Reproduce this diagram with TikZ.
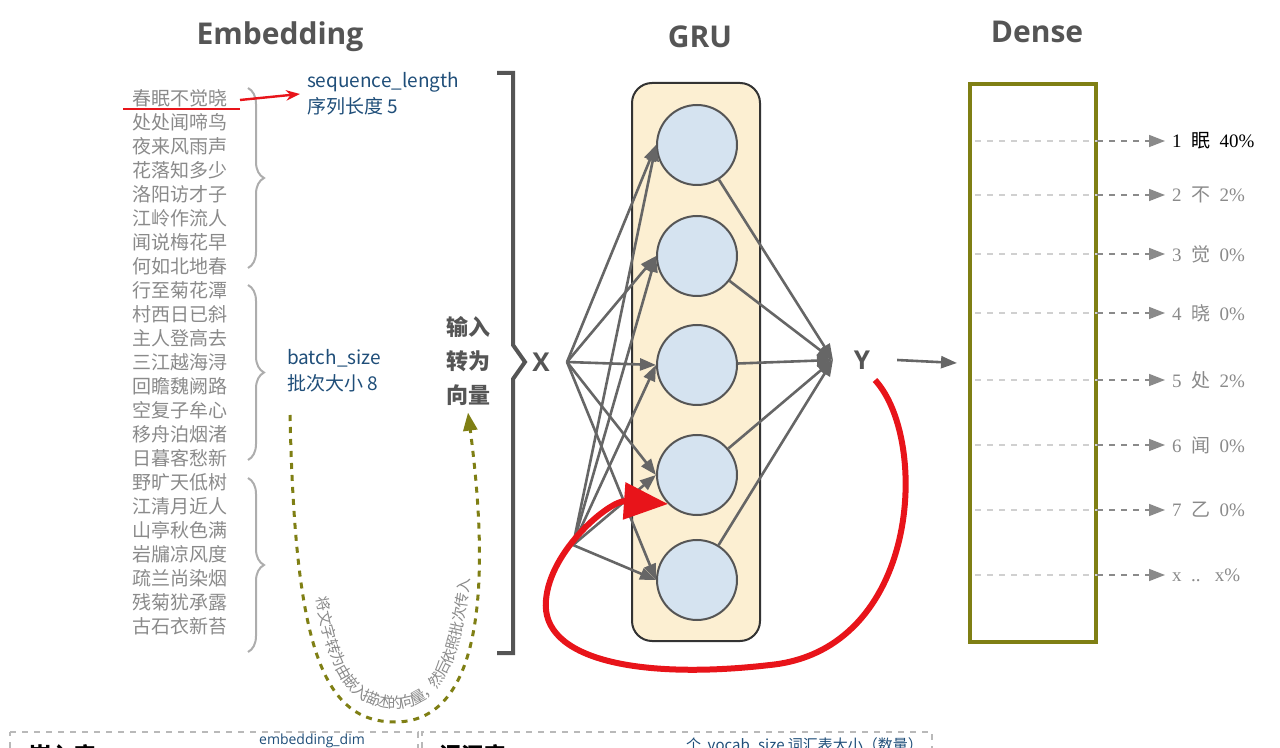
\documentclass[tikz,border=0pt]{standalone}
\usepackage{fontspec}
\setmainfont{Open Sans}
\newfontfamily\cjk{Noto Sans CJK SC}
\newfontfamily\serifcjk{Noto Sans CJK SC}
\newfontfamily\lserif{Liberation Serif}
\usetikzlibrary{decorations.pathreplacing,decorations.text,arrows.meta,calc}
\definecolor{tgray}{HTML}{555555}
\definecolor{pgray}{HTML}{8A8A8A}
\definecolor{dblue}{HTML}{1F4E79}
\definecolor{olive}{HTML}{7F7F14}
\definecolor{gold}{HTML}{FCEFD2}
\definecolor{cblue}{HTML}{D5E3F0}
\definecolor{dred}{HTML}{E8141A}
\begin{document}
\begin{tikzpicture}[x=0.5pt,y=-0.5pt,
  title/.style={font=\bfseries\fontsize{15}{15}\selectfont, text=tgray},
  poem/.style={font=\cjk\fontsize{9.5}{10}\selectfont, text=pgray},
  lab/.style={font=\cjk\fontsize{9.5}{13}\selectfont, text=dblue, align=left, anchor=west},
  cell/.style={circle, draw=tgray, line width=1pt, fill=cblue, minimum size=40pt, inner sep=0},
  conn/.style={draw=tgray!90, line width=1.3pt, -{Triangle[length=8pt,width=6pt]}},
  outarr/.style={draw=pgray, dashed, line width=0.8pt, -{Triangle[length=8pt,width=6pt]}},
  outlab/.style={font=\lserif\fontsize{9.5}{10}\selectfont, text=pgray, anchor=west},
  brace/.style={draw=pgray!70, line width=1pt, decorate, decoration={brace, amplitude=8pt}}]
\useasboundingbox (0,0) rectangle (1280,748);
\clip (0,0) rectangle (1280,748);
% titles
\node[title] (t1) at (280,37) {Embedding};
\node[title] (t2) at (700,37) {GRU};
\node[title] (t3) at (1037,32) {Dense};
% poem
\foreach \t [count=\i] in {春眠不觉晓,处处闻啼鸟,夜来风雨声,花落知多少,洛阳访才子,江岭作流人,闻说梅花早,何如北地春,行至菊花潭,村西日已斜,主人登高去,三江越海浔,回瞻魏阙路,空复子牟心,移舟泊烟渚,日暮客愁新,野旷天低树,江清月近人,山亭秋色满,岩牖凉风度,疏兰尚染烟,残菊犹承露,古石衣新苔}
  \node[poem] (p\i) at (180,{74+\i*24}) {\t};
\draw[brace] (248,88) -- (248,268);
\draw[brace] (248,285) -- (248,460);
\draw[brace] (248,478) -- (248,652);
\draw[dred, line width=1.2pt] (123,109) -- (240,109);
\coordinate (rs) at (240,100);
\node[lab] (sl) at (300,94) {sequence\_length\\序列长度 5};
\draw[dred, line width=1.2pt, -{Stealth[length=7pt]}] (rs) -- (sl.west);
\node[lab] (bs) at (280,371) {batch\_size\\批次大小 8};
% big bracket
\draw[tgray, line width=2pt] (497,73) -- (513,73) -- (513,345) -- (525,362) -- (513,379) -- (513,653) -- (497,653);
\node[font=\cjk\bfseries\fontsize{11}{17}\selectfont, text=tgray, align=center] (inp) at (468,361) {输入\\转为\\向量};
\node[font=\bfseries\fontsize{13}{13}\selectfont, text=tgray] (X) at (541,362) {X};
% green curve
\coordinate (g1) at (290,415);
\draw[olive, dashed, line width=1.5pt, -{Triangle[length=9pt,width=7pt]}] (g1) .. controls (295,640) and (320,722) .. (395,722) .. controls (470,722) and (495,620) .. (inp.south);
\path[postaction={decorate, decoration={text along path, raise=3pt, text align=center,
   text={|\cjk\fontsize{7.5}{9}\selectfont\color{pgray}|将文字转为由嵌入描述的向量，然后依照批次传入}}}]
   (298,430) .. controls (303,640) and (326,714) .. (395,714) .. controls (464,714) and (487,620) .. (476,410);
% GRU
\node[draw=black!80, line width=1pt, fill=gold, rounded corners=10pt, minimum width=64pt, minimum height=279pt] (gru) at (696,362) {};
\foreach \i/\y in {1/145,2/256,3/365,4/475,5/580}
  \node[cell] (c\i) at (697,\y) {};
\coordinate (xs) at (567,362);
\coordinate (xb) at (573,545);
\foreach \i in {1,...,5} {
  \draw[conn] (xs) -- (c\i.west);
  \draw[conn] (xb) -- (c\i.west);
}
\coordinate (yin) at (833,360);
\foreach \i in {1,...,5} \draw[conn] (c\i) -- (yin);
\node[font=\bfseries\fontsize{13}{13}\selectfont, text=tgray] (Y) at (862,360) {Y};
\coordinate (dn) at (957,363);
\draw[conn] (Y.east) ++(20,0) -- (dn);
% red loop
\draw[dred, line width=3pt, -{Triangle[length=22pt,width=18pt]}] (875,380) .. controls (930,440) and (920,650) .. (770,665)
  .. controls (640,680) and (540,660) .. (546,600) .. controls (550,550) and (610,500) .. (c4.south west);
% Dense
\node[draw=olive, line width=2pt, minimum width=63pt, minimum height=279pt] (dense) at (1033,363) {};
\foreach \y/\t/\c in {141/{1\ \ {\serifcjk 眠}\ \ 40\%}/black, 195/{2\ \ {\serifcjk 不}\ \ 2\%}/pgray, 254/{3\ \ {\serifcjk 觉}\ \ 0\%}/pgray, 313/{4\ \ {\serifcjk 晓}\ \ 0\%}/pgray, 380/{5\ \ {\serifcjk 处}\ \ 2\%}/pgray, 445/{6\ \ {\serifcjk 闻}\ \ 0\%}/pgray, 510/{7\ \ {\serifcjk 乙}\ \ 0\%}/pgray, 575/{x\ \ ..\ \ \ x\%}/pgray} {
  \coordinate (o\y) at (975,\y);
  \node[outlab, text=\c] (l\y) at (1165,\y) {\t};
  \draw[draw=pgray!40, dashed, line width=0.6pt] (o\y) -- (1097,\y);
  \draw[outarr] (1097,\y) -- (l\y.west);
}
% bottom boxes
\draw[pgray!60, dashed, line width=0.8pt] (10,732) -- (418,732) -- (418,760);
\draw[pgray!60, dashed, line width=0.8pt] (10,760) -- (10,732);
\draw[pgray!60, dashed, line width=0.8pt] (422,760) -- (422,732) -- (932,732) -- (932,760);
\node[font=\cjk\bfseries\fontsize{11}{11}\selectfont, anchor=west] (b1) at (22,755) {嵌入库};
\node[font=\fontsize{7}{7}\selectfont, text=dblue] (b2) at (312,741) {embedding\_dim};
\node[font=\cjk\bfseries\fontsize{11}{11}\selectfont, anchor=west] (b3) at (432,755) {词汇库};
\node[font=\cjk\fontsize{7.5}{8}\selectfont, text=dblue, anchor=east] (b4) at (930,745) {个\ \ vocab\_size 词汇表大小（数量）};
\end{tikzpicture}
\end{document}
